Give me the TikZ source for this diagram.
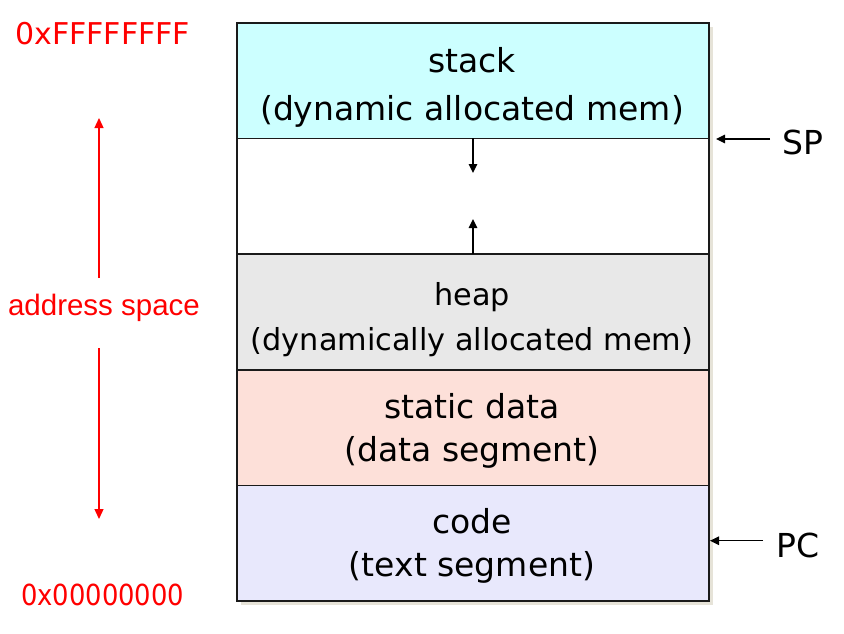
\documentclass[tikz,border=0pt]{standalone}
\usepackage{fontspec}
\usetikzlibrary{arrows.meta,shadows}
\newfontfamily\verd{DejaVu Sans}
\newfontfamily\arialf{Liberation Sans}
\definecolor{stackc}{HTML}{CCFFFF}
\definecolor{heapc}{HTML}{E8E8E8}
\definecolor{staticc}{HTML}{FDE0D9}
\definecolor{codec}{HTML}{E8E8FC}
\definecolor{shadowc}{HTML}{E6E3D8}
\definecolor{redc}{HTML}{FF0000}
\definecolor{linec}{HTML}{1A1A1A}
\tikzset{
  membox/.style={draw=linec, line width=1.6pt, minimum width=472pt, minimum height=115.6pt,
    inner sep=0pt, outer sep=0pt,
    drop shadow={shadow xshift=3.5pt, shadow yshift=-3.5pt, fill=shadowc, opacity=1}},
  boxtxt/.style={anchor=base, inner sep=0pt, font=\verd\fontsize{33}{40}\selectfont},
  heaptxt/.style={anchor=base, inner sep=0pt, font=\verd\fontsize{30.3}{36}\selectfont},
  redtxt/.style={inner sep=0pt, text=redc},
  sidetxt/.style={anchor=base west, inner sep=0pt, font=\verd\fontsize{33}{40}\selectfont},
  blk/.style={line width=1.3pt, draw=black, -{Triangle[length=9pt,width=8.5pt]}},
  redarr/.style={line width=1.3pt, draw=redc, -{Triangle[length=10pt,width=9pt]}}
}
\begin{document}
\begin{tikzpicture}[x=1pt,y=-1pt]
\useasboundingbox (0,0) rectangle (844,633);
\fill[white] (0,0) rectangle (844,633);
% boxes
\node[membox, fill=stackc] (stack) at (473,80.8) {};
\node[membox, fill=white] (free) at (473,196.4) {};
\node[membox, fill=heapc] (heap) at (473,312.0) {};
\node[membox, fill=staticc] (static) at (473,427.6) {};
\node[membox, fill=codec] (code) at (473,543.2) {};
% box texts
\node[boxtxt] (st1) at (472,72.7) {stack};
\node[boxtxt] (st2) at (472,120) {(dynamic allocated mem)};
\node[heaptxt] (hp1) at (472,305) {heap};
\node[heaptxt] (hp2) at (472,350.5) {(dynamically allocated mem)};
\node[boxtxt] (sd1) at (472,418.3) {static data};
\node[boxtxt] (sd2) at (472,461.7) {(data segment)};
\node[boxtxt] (cd1) at (472,533.3) {code};
\node[boxtxt] (cd2) at (472,576) {(text segment)};
% growth arrows
\coordinate (dtop) at (473,138);
\coordinate (dtip) at (473,173);
\coordinate (ubot) at (473,254);
\coordinate (utip) at (473,219);
\draw[blk] (dtop) -- (dtip);
\draw[blk] (ubot) -- (utip);
% SP, PC
\node[sidetxt] (sp) at (782,154) {SP};
\node[sidetxt] (pc) at (776,557.7) {PC};
\coordinate (sptail) at (770,139);
\coordinate (sphead) at (716,139);
\coordinate (pctail) at (763,540.7);
\coordinate (pchead) at (710,540.7);
\draw[blk] (sptail) -- (sphead);
\draw[blk] (pctail) -- (pchead);
% address labels
\node[redtxt, anchor=base west, font=\verd\fontsize{30}{36}\selectfont] (hi) at (15,44.3) {0xFFFFFFFF};
\node[redtxt, anchor=base west, font=\verd\fontsize{29}{36}\selectfont] (lo) at (21,605) {\scalebox{0.89}[1]{0x00000000}};
\node[redtxt, anchor=base, font=\arialf\fontsize{29.5}{36}\selectfont] (addr) at (104,315) {address space};
\coordinate (uptail) at (99,278);
\coordinate (uptip) at (99,118);
\coordinate (dntail) at (99,348);
\coordinate (dntip) at (99,519);
\draw[redarr] (uptail) -- (uptip);
\draw[redarr] (dntail) -- (dntip);
\end{tikzpicture}
\end{document}
